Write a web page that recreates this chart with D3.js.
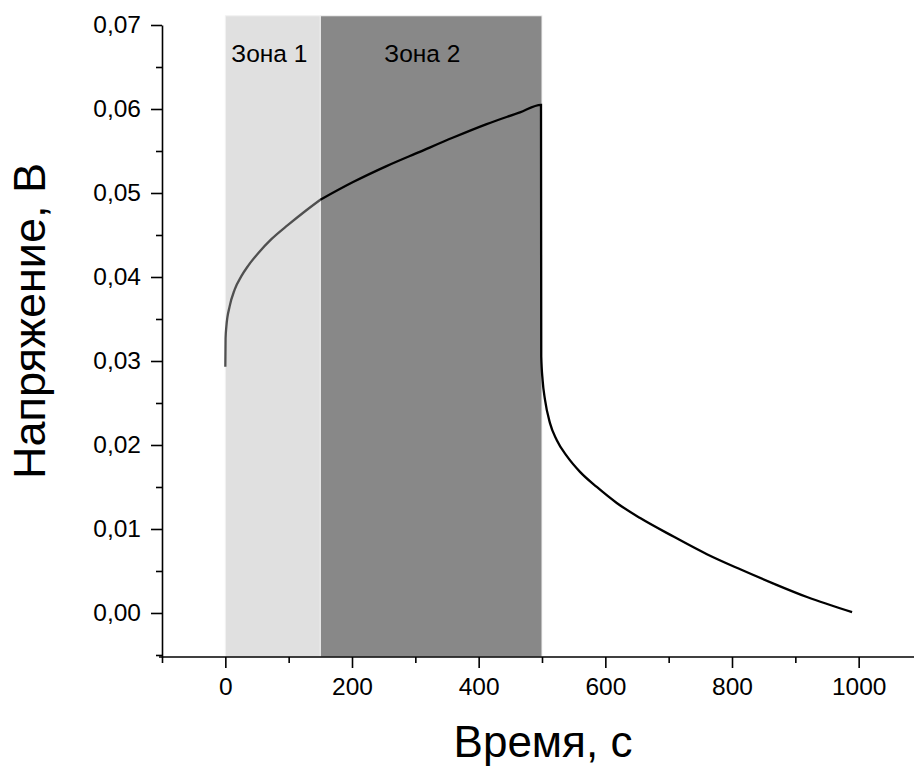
<!DOCTYPE html>
<html>
<head>
<meta charset="utf-8">
<script src="https://cdn.jsdelivr.net/npm/d3@7"></script>
<style>
  body { margin: 0; background: #fff; }
  text { font-family: Arial, "Liberation Sans", sans-serif; }
</style>
</head>
<body>
<div id="chart"></div>
<script>
// voltage curve (time in s, voltage in V)
var timeS = [0, 0.4, 1.6, 6.8, 14.7, 25.3, 35.7, 51.5, 72.7, 99, 125.4, 150,
  201.7, 254.5, 307, 359.8, 412.6, 465.2, 498.4,
  498.8, 501, 504.7, 512.6, 523.2, 539, 560, 586.5, 618, 655,
  707.6, 760.4, 813, 865.6, 918.4, 989.6];
var voltage = [0.0293, 0.0327, 0.0341, 0.0365, 0.0385, 0.0401, 0.0413, 0.0428, 0.0445, 0.0462, 0.0478, 0.0492,
  0.0513, 0.0532, 0.0549, 0.0566, 0.0582, 0.0596, 0.0605,
  0.0305, 0.0277, 0.0254, 0.0226, 0.0206, 0.0187, 0.0168, 0.0150, 0.0131, 0.0113,
  0.0091, 0.0070, 0.0052, 0.0035, 0.0019, 0.0001];

// shaded zones
var zoneNames = ["Зона 1", "Зона 2"];
var zoneStart = [0, 150];
var zoneEnd = [150, 500];
var zoneColors = ["#e0e0e0", "#888888"];
var zoneTop = 0.0711;

var xTicks = [0, 200, 400, 600, 800, 1000];
var xMinor = [-100, 100, 300, 500, 700, 900];
var yTicks = [0, 0.01, 0.02, 0.03, 0.04, 0.05, 0.06, 0.07];
var yMinor = [-0.005, 0.005, 0.015, 0.025, 0.035, 0.045, 0.055, 0.065];

var W = 914, H = 767;
var mLeft = 162, mTop = 25, mBottom = 657;

var svg = d3.select("#chart").append("svg").attr("width", W).attr("height", H);

var x = d3.scaleLinear().domain([-100, 1100]).range([mLeft, mLeft + 760]);
var y = d3.scaleLinear().domain([-0.00524, 0.07]).range([mBottom, mTop]);

// zones
var zones = zoneNames.map(function(n, i) { return {name: n, a: zoneStart[i], b: zoneEnd[i], c: zoneColors[i]}; });
svg.selectAll("rect.zone").data(zones).enter().append("rect")
  .attr("class", "zone")
  .attr("x", function(d) { return x(d.a); })
  .attr("width", function(d) { return x(d.b) - x(d.a); })
  .attr("y", y(zoneTop))
  .attr("height", mBottom - y(zoneTop))
  .attr("fill", function(d) { return d.c; })
  .attr("stroke", "#f2f2f2").attr("stroke-width", 1);

svg.selectAll("text.zone").data(zones).enter().append("text")
  .attr("class", "zone")
  .attr("x", function(d, i) { return i == 0 ? x(d.a) + 6 : x(d.a) + 64; })
  .attr("y", 62)
  .attr("font-size", "24.5px")
  .attr("fill", "#000")
  .text(function(d) { return d.name; });

// curve
var pts = timeS.map(function(t, i) { return [t, voltage[i]]; });
var line = d3.line().x(function(d) { return x(d[0]); }).y(function(d) { return y(d[1]); })
  .curve(d3.curveMonotoneX);
svg.append("path").datum(pts.filter(function(d) { return d[0] <= 150; }))
  .attr("d", line).attr("fill", "none").attr("stroke", "#505050").attr("stroke-width", 2.3);
svg.append("path").datum(pts.filter(function(d) { return d[0] >= 150; }))
  .attr("d", line).attr("fill", "none").attr("stroke", "#000").attr("stroke-width", 2.3);

// axes
var fmt = function(d) { return d3.format(".2f")(d).replace(".", ","); };
var gx = svg.append("g").attr("transform", "translate(0," + mBottom + ")");
gx.call(d3.axisBottom(x).tickValues(xTicks).tickSize(11).tickPadding(10).tickFormat(d3.format("d")).tickSizeOuter(0));
var gxm = svg.append("g").attr("transform", "translate(0," + mBottom + ")");
gxm.call(d3.axisBottom(x).tickValues(xMinor).tickSize(6).tickFormat("").tickSizeOuter(0));
gx.select(".domain").attr("d", "M" + (mLeft - 3) + ",0H" + W);

var gy = svg.append("g").attr("transform", "translate(" + mLeft + ",0)");
gy.call(d3.axisLeft(y).tickValues(yTicks).tickSize(11).tickPadding(10).tickFormat(fmt).tickSizeOuter(0));
var gym = svg.append("g").attr("transform", "translate(" + mLeft + ",0)");
gym.call(d3.axisLeft(y).tickValues(yMinor).tickSize(6).tickFormat("").tickSizeOuter(0));

svg.selectAll(".domain").attr("stroke", "#000").attr("stroke-width", 1.6);
gym.select(".domain").remove();
gxm.select(".domain").remove();
svg.selectAll(".tick line").attr("stroke", "#000").attr("stroke-width", 1.6);
svg.selectAll(".tick text").attr("font-size", "24.5px").attr("fill", "#000")
  .attr("font-family", "Arial, 'Liberation Sans', sans-serif");

// titles
svg.append("text").attr("x", 543).attr("y", 757).attr("text-anchor", "middle")
  .attr("font-size", "44px").attr("fill", "#000").text("Время, с");
svg.append("text").attr("transform", "translate(45,321) rotate(-90)").attr("text-anchor", "middle")
  .attr("font-size", "45px").attr("fill", "#000").text("Напряжение, В");
</script>
</body>
</html>
